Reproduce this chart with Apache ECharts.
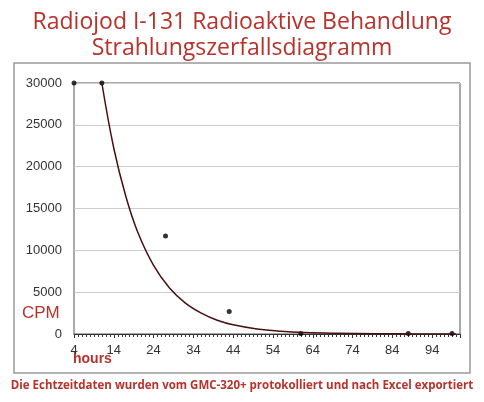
<!DOCTYPE html>
<html><head><meta charset="utf-8">
<script src="https://cdn.jsdelivr.net/npm/echarts@6/dist/echarts.min.js"></script>
<style>html,body{margin:0;padding:0;background:#fff}#c{width:484px;height:402px}</style>
</head><body><div id="c"></div>
<script>
const yTicks = [0, 5000, 10000, 15000, 20000, 25000, 30000];
const pointHours = [4, 11, 27, 43, 61, 88, 99];
const pointCPM = [30000, 30000, 11700, 2700, 50, 50, 50];
const curveHours = [11, 14, 17, 20, 24, 28, 32, 36, 40, 44, 50, 56, 62, 70, 80, 90, 100];
const curveCPM = [30000, 22200, 16500, 12200, 8200, 5500, 3700, 2500, 1650, 1100, 600, 330, 180, 90, 30, 10, 5];
const red = '#b8322c';
const chart = echarts.init(document.getElementById('c'));
chart.setOption({
  animation: false,
  title: {
    text: 'Radiojod I-131 Radioaktive Behandlung\nStrahlungszerfallsdiagramm',
    left: 'center', top: 4,
    textStyle: { color: red, fontSize: 23, fontWeight: 'normal', fontFamily: 'Open Sans', lineHeight: 26 }
  },
  graphic: [
    { type: 'rect', shape: { x: 14, y: 63, width: 456, height: 310 }, style: { fill: 'none', stroke: '#999', lineWidth: 1.5 } },
    { type: 'text', left: 22, top: 305, style: { text: 'CPM', fill: red, fontSize: 17, fontFamily: 'Liberation Sans' } },
    { type: 'text', left: 73, top: 352, style: { text: 'hours', fill: red, fontSize: 14, fontWeight: 'bold', fontFamily: 'Liberation Sans' } },
    { type: 'text', left: 'center', top: 380, style: { text: 'Die Echtzeitdaten wurden vom GMC-320+ protokolliert und nach Excel exportiert', fill: red, fontSize: 11.5, fontWeight: 'bold', fontFamily: 'Open Sans' } }
  ],
  grid: { left: 74, right: 24, top: 83, bottom: 68, show: true, borderColor: '#555', borderWidth: 1 },
  xAxis: {
    type: 'value', min: 4, max: 101, interval: 10,
    axisLine: { lineStyle: { color: '#333' } },
    axisTick: { show: true, length: 4, lineStyle: { color: '#333' } },
    minorTick: { show: true, splitNumber: 10, length: 3, lineStyle: { color: '#333' } },
    splitLine: { show: false },
    axisLabel: { color: '#333', fontSize: 13, fontFamily: 'Liberation Sans', margin: 10,
      formatter: v => (v > 100 ? '' : String(v)) }
  },
  yAxis: {
    type: 'value', min: 0, max: 30000, interval: 5000,
    axisLine: { show: false }, axisTick: { show: false },
    splitLine: { lineStyle: { color: '#ccc' } },
    axisLabel: { color: '#333', fontSize: 13, fontFamily: 'Liberation Sans', margin: 12, formatter: v => String(v) }
  },
  series: [
    { type: 'line', data: curveHours.map((h, i) => [h, curveCPM[i]]), smooth: 0.4, showSymbol: false,
      lineStyle: { color: '#4a1010', width: 1.5 } },
    { type: 'scatter', data: pointHours.map((h, i) => [h, pointCPM[i]]), symbolSize: 5,
      itemStyle: { color: '#000' } }
  ]
});
</script></body></html>
